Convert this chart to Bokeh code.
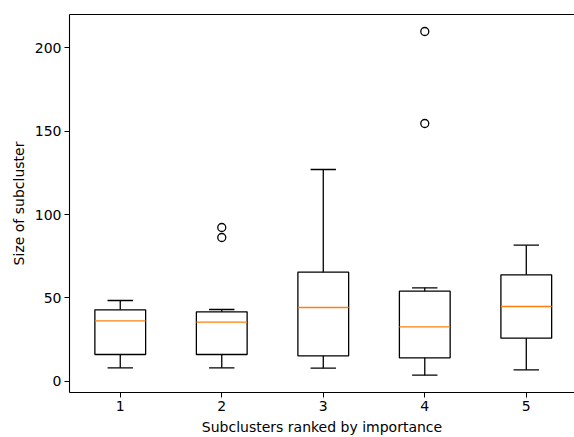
from bokeh.plotting import figure
from bokeh.models import LinearAxis, FixedTicker, Range1d
from bokeh.embed import file_html
from bokeh.resources import INLINE

# Box-plot statistics
categories = [1, 2, 3, 4, 5]
whisker_low = [8.0, 8.0, 7.8, 3.6, 6.8]
q1 = [16.0, 16.0, 15.2, 14.0, 25.8]
median = [36.2, 35.4, 44.2, 32.6, 44.8]
q3 = [42.8, 41.6, 65.4, 54.0, 63.8]
whisker_high = [48.4, 43.0, 127.0, 56.0, 81.6]
outlier_x = [2, 2, 4, 4]
outlier_y = [92.2, 86.2, 209.8, 154.6]

y_ticks = [0, 50, 100, 150, 200]

BOX_W = 0.5
CAP_W = 0.25
LW = 1.3
FONT = "DejaVu Sans"

p = figure(width=574, height=437, output_backend="svg", toolbar_location=None,
           x_range=Range1d(0.5, 5.475), y_range=Range1d(-6.8, 220.0),
           min_border_left=69, min_border_right=0, min_border_top=14,
           min_border_bottom=45)
p.outline_line_color = None
p.grid.grid_line_color = None
p.background_fill_color = "white"

# boxes
p.vbar(x=categories, width=BOX_W, bottom=q1, top=q3, fill_color=None,
       line_color="black", line_width=LW)
# whiskers
p.segment(x0=categories, y0=q3, x1=categories, y1=whisker_high, line_color="black", line_width=LW)
p.segment(x0=categories, y0=q1, x1=categories, y1=whisker_low, line_color="black", line_width=LW)
# caps
p.segment(x0=[c - CAP_W / 2 for c in categories], y0=whisker_high,
          x1=[c + CAP_W / 2 for c in categories], y1=whisker_high, line_color="black", line_width=LW)
p.segment(x0=[c - CAP_W / 2 for c in categories], y0=whisker_low,
          x1=[c + CAP_W / 2 for c in categories], y1=whisker_low, line_color="black", line_width=LW)
# medians
p.segment(x0=[c - BOX_W / 2 for c in categories], y0=median,
          x1=[c + BOX_W / 2 for c in categories], y1=median, line_color="#ff7f0e", line_width=LW)
# outliers
p.scatter(outlier_x, outlier_y, marker="circle", size=8, fill_color=None,
          line_color="black", line_width=LW)

for ax in (p.xaxis[0], p.yaxis[0]):
    ax.axis_line_color = "black"
    ax.axis_line_width = 1.1
    ax.major_tick_line_color = "black"
    ax.major_tick_out = 5
    ax.major_tick_in = 0
    ax.minor_tick_line_color = None
    ax.major_label_text_font = FONT
    ax.major_label_text_font_size = "14px"
    ax.major_label_text_color = "black"
    ax.major_label_standoff = 3
    ax.axis_label_text_font = FONT
    ax.axis_label_text_font_size = "14px"
    ax.axis_label_text_font_style = "normal"
    ax.axis_label_text_color = "black"
    ax.axis_label_standoff = 5

p.xaxis[0].ticker = FixedTicker(ticks=categories)
p.yaxis[0].ticker = FixedTicker(ticks=y_ticks)
p.xaxis[0].axis_label = "Subclusters ranked by importance"
p.yaxis[0].axis_label = "Size of subcluster"

top = LinearAxis(ticker=FixedTicker(ticks=[]), major_tick_out=0, major_tick_in=0,
                 major_label_text_font_size="0px", major_label_standoff=0,
                 minor_tick_line_color=None, axis_line_color="black", axis_line_width=1.1)
p.add_layout(top, "above")

open("out.html", "w").write(file_html(p, INLINE))
